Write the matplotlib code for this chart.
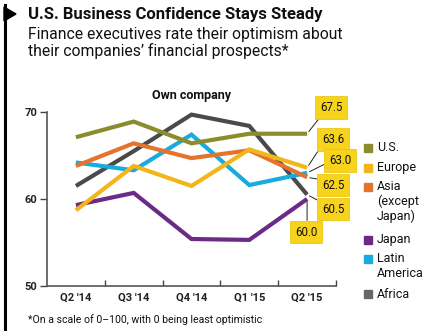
import matplotlib
matplotlib.use("Agg")
import matplotlib.pyplot as plt
from matplotlib.patches import Rectangle, Polygon
from matplotlib.lines import Line2D

# quarterly optimism scores (0-100) for own company
quarters = ["Q2 '14", "Q3 '14", "Q4 '14", "Q1 '15", "Q2 '15"]
regions = ["U.S.", "Europe", "Asia\n(except\nJapan)", "Japan", "Latin\nAmerica", "Africa"]
us = [67.1, 68.9, 66.4, 67.5, 67.5]
europe = [58.7, 63.8, 61.5, 65.7, 63.6]
asia = [63.8, 66.4, 64.7, 65.6, 62.5]
japan = [59.3, 60.7, 55.4, 55.3, 60.0]
latin_america = [64.2, 63.3, 67.4, 61.6, 63.0]
africa = [61.5, 65.5, 69.7, 68.4, 60.5]

colors = ["#8c8c2e", "#f3b51a", "#e4732b", "#6c2a87", "#19abdd", "#4a4a4a"]
legend_colors = ["#8c8c2e", "#f3b51a", "#e4732b", "#6c2a87", "#19abdd", "#666666"]

W, H = 425, 331
fig = plt.figure(figsize=(W / 100, H / 100), dpi=100)


def fx(px):
    return px / W


def fy(py):
    return 1 - py / H


# black flag bar on the left
fig.add_artist(Line2D([fx(4.5), fx(4.5)], [fy(5), fy(331)], color="black", lw=2.2))
fig.add_artist(Polygon([[fx(4), fy(7)], [fx(16), fy(14)], [fx(4), fy(21)]],
                       closed=True, color="black", transform=fig.transFigure))

fig.text(fx(28), fy(14), "U.S. Business Confidence Stays Steady", fontsize=12,
         fontweight="bold", family="Roboto", va="center", ha="left", color="#111111")
fig.text(fx(28), fy(43), "Finance executives rate their optimism about\ntheir companies\u2019 financial prospects*",
         fontsize=11.3, family="Roboto", va="center", ha="left", color="#111111",
         linespacing=1.0)
fig.text(fx(192), fy(96), "Own company", fontsize=9, fontweight="bold", family="Roboto",
         ha="center", va="center", color="#111111")
fig.text(fx(28), fy(320), "*On a scale of 0\u2013100, with 0 being least optimistic", fontsize=7.6,
         family="Roboto", ha="left", va="center", color="#111111")

ax = fig.add_axes([fx(47), fy(286), fx(336) - fx(47), fy(112) - fy(286)])
x = list(range(len(quarters)))
series = [us, europe, asia, japan, latin_america, africa]
# draw back to front so the U.S. line sits on top
order = [5, 3, 4, 2, 1, 0]
for i in order:
    ax.plot(x, series[i], color=colors[i], lw=3.0, clip_on=False, solid_capstyle="butt",
            solid_joinstyle="miter")

ax.set_xlim(-0.5, 4.5)
ax.set_ylim(50, 70)
ax.set_yticks([50, 60, 70])
ax.set_yticklabels(["50", "60", "70"])
ax.set_xticks(x)
ax.set_xticklabels(quarters)
ax.set_xticks([0.5, 1.5, 2.5, 3.5, 4.5], minor=True)
ax.tick_params(axis="x", which="major", length=0, pad=5)
ax.tick_params(axis="x", which="minor", direction="in", length=4, width=1, color="#444444")
ax.tick_params(axis="y", direction="out", length=5, width=1, color="#444444", pad=2)
for lab in ax.get_xticklabels() + ax.get_yticklabels():
    lab.set_fontweight("bold")
    lab.set_family("Roboto")
    lab.set_fontsize(8)
    lab.set_color("#222222")
for s in ["top", "right"]:
    ax.spines[s].set_visible(False)
for s in ["left", "bottom"]:
    ax.spines[s].set_color("#555555")
    ax.spines[s].set_linewidth(1.2)
ax.patch.set_alpha(0)

# value callouts for the latest quarter
last = [s[-1] for s in series]
callouts = [
    (0, (4.42, 70.5), (0.1, 0.0)),
    (1, (4.45, 66.8), (0.0, 0.1)),
    (4, (4.57, 64.4), (0.0, 0.4)),
    (2, (4.45, 61.6), (0.0, 0.9)),
    (5, (4.45, 58.85), (0.0, 1.0)),
    (3, (3.98, 56.2), (0.55, 1.0)),
]
for i, pos, rel in callouts:
    ax.annotate(f"{last[i]:.1f}", xy=(4, last[i]), xytext=pos, textcoords="data",
                ha="center", va="center", fontsize=8.3, family="Roboto", color="#111111",
                annotation_clip=False,
                bbox=dict(boxstyle="square,pad=0.42", fc="#f7d31c", ec="#e8c200", lw=0.5),
                arrowprops=dict(arrowstyle="-", color="#222222", lw=0.7, relpos=rel,
                                shrinkA=0, shrinkB=2))

# legend
legend_y = [148, 168, 187, 240, 259, 294]
for name, col, ly in zip(regions, legend_colors, legend_y):
    fig.add_artist(Rectangle((fx(364), fy(ly + 4)), fx(8), fy(0) - fy(8),
                             color=col, transform=fig.transFigure))
    fig.text(fx(377), fy(ly - 6.5), name, fontsize=9, family="Roboto", ha="left",
             va="top", color="#111111", linespacing=1.15)

fig.savefig("out.png", dpi=100)
